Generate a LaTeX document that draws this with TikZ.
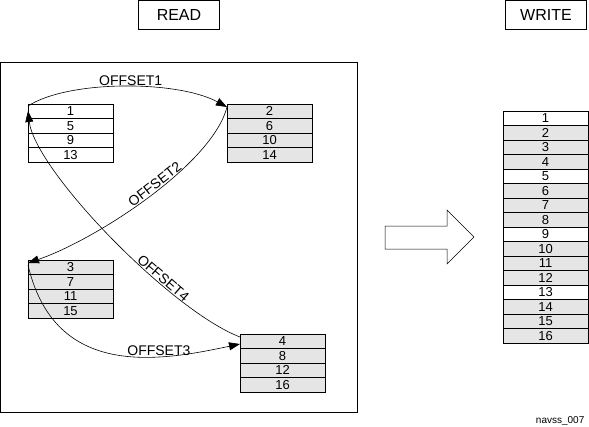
\documentclass[tikz,border=0pt]{standalone}
\usepackage{fontspec}
\setmainfont{Liberation Sans}
\usepackage{tikz}
\usetikzlibrary{arrows, arrows.meta, shapes}
\usetikzlibrary{calc}

\begin{document}
\begin{tikzpicture}[x=1pt, y=-1pt, line width=0.7pt]

\tikzset{
  % style for one row of a buffer
  cell/.style={draw, inner sep=0pt, outer sep=0pt,
    minimum width=85pt, minimum height=14.5pt,
    font=\fontsize{13}{13}\selectfont},
  whitecell/.style={cell, fill=white},
  graycell/.style={cell, fill=black!10},
  % style for the READ and WRITE boxes
  titlebox/.style={draw, inner sep=0pt, minimum width=81pt, minimum height=29pt,
    font=\fontsize{16}{16}\selectfont},
  % style for the offset curves
  offset/.style={line width=0.6pt, -{Triangle[length=11pt,width=8pt]}},
  offsetlabel/.style={font=\fontsize{14}{14}\selectfont, inner sep=1pt},
}

\useasboundingbox (0,0) rectangle (589,426);

\node[titlebox] (read) at (179,15) {READ};
\node[titlebox] (write) at (546,15) {WRITE};

\draw (0.5,62) rectangle (357,412);

% read buffers, four rows each
\foreach \first/\bx/\by/\kind in {1/28/104/whitecell, 2/227/104/graycell,
    3/28/260/graycell, 4/240/334/graycell} {
  \foreach \k in {0,...,3} {
    \pgfmathtruncatemacro\n{\first+4*\k}
    \node[\kind, anchor=north west] (r\n) at (\bx,{\by+14.5*\k}) {\n};
  }
}

% write buffer
\foreach \n in {1,...,16} {
  \pgfmathtruncatemacro\gap{mod(\n,4)==1 ? 0 : 10}
  \node[cell, fill=black!\gap, anchor=north west] (w\n) at (503,{111+14.5*(\n-1)}) {\n};
}

% big arrow
\draw[line width=0.5pt, fill=white] (385,226) -- (447,226) -- (447,210) -- (474,237)
  -- (447,264) -- (447,249) -- (385,249) -- cycle;

\draw[offset] ([yshift=-2pt]r1.north west) .. controls +(40,-26) and +(-50,-27)
  .. ([yshift=-3pt]r2.north west) node[offsetlabel, above, pos=0.53] {OFFSET1};
\draw[offset] ([yshift=-3pt]r2.north west) .. controls +(-15,58) and +(67,-23)
  .. ([yshift=-3pt]r3.north west) node[offsetlabel, sloped, above, pos=0.45] {OFFSET2};
\draw[offset] ([yshift=-5pt]r3.north west) .. controls +(27,115) and +(-80,17)
  .. ([yshift=-10pt]r4.north west) node[offsetlabel, above, pos=0.68] {OFFSET3};
\draw[offset] ([yshift=-3pt]r4.north west) .. controls +(-70,-27) and +(7,59)
  .. ([yshift=-7pt]r1.north west) node[offsetlabel, sloped, above, pos=0.32] {OFFSET4};

\node[font=\fontsize{10}{10}\selectfont, anchor=east] (tag) at (588,421) {navss\_007};

\end{tikzpicture}
\end{document}
